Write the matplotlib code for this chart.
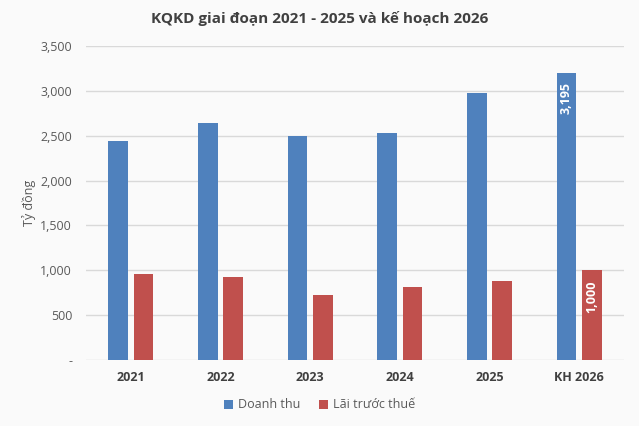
import matplotlib
matplotlib.use("Agg")
import matplotlib.pyplot as plt
import numpy as np

categories = ["2021", "2022", "2023", "2024", "2025", "KH 2026"]
doanh_thu = [2445, 2639, 2497, 2531, 2980, 3195]
lai_truoc_thue = [955, 922, 721, 817, 884, 1000]
yticks = [0, 500, 1000, 1500, 2000, 2500, 3000, 3500]
ytick_labels = ["-", "500", "1,000", "1,500", "2,000", "2,500", "3,000", "3,500"]
labelled = {5: ("3,195", "1,000")}

plt.rcParams['font.family'] = ['Open Sans', 'DejaVu Sans']

bg = "#fafafa"
fig = plt.figure(figsize=(6.39, 4.26), dpi=100, facecolor=bg)
ax = fig.add_axes([86/639, 1-360/426, 538/639, 314/426], facecolor=bg)

x = np.arange(len(categories))
w = 0.218
off = 0.142
blue = "#4f81bd"
red = "#c0504d"
b1 = ax.bar(x - off, doanh_thu, w, color=blue, label="Doanh thu", zorder=3)
b2 = ax.bar(x + off, lai_truoc_thue, w, color=red, label="Lãi trước thuế", zorder=3)

for i, (l1, l2) in labelled.items():
    ax.annotate(l1, (x[i] - off, doanh_thu[i]), xytext=(0, -6), textcoords="offset points",
                rotation=90, ha="center", va="top", color="white", fontweight="bold", fontsize=9)
    ax.annotate(l2, (x[i] + off, lai_truoc_thue[i]), xytext=(0, -7), textcoords="offset points",
                rotation=90, ha="center", va="top", color="white", fontweight="bold", fontsize=9)

ax.set_xlim(-0.5, len(categories) - 0.5)
ax.set_ylim(0, 3500)
ax.set_yticks(yticks)
ax.set_yticklabels(ytick_labels)
ax.set_xticks(x)
ax.set_xticklabels(categories, fontweight="bold")
ax.grid(axis="y", color="#d9d9d9", linewidth=1, zorder=0)
for s in ax.spines.values():
    s.set_visible(False)
ax.tick_params(axis="both", length=0, colors="#595959", labelsize=9)
ax.tick_params(axis="x", colors="#404040", pad=8)
ax.tick_params(axis="y", pad=10)
ax.set_ylabel("Tỷ đồng", color="#595959", fontsize=9, labelpad=3)

fig.suptitle("KQKD giai đoạn 2021 - 2025 và kế hoạch 2026", x=0.5, y=0.975, fontsize=11,
             fontweight="bold", color="#404040")

fig.legend(handles=[b1, b2], loc="center", bbox_to_anchor=(0.5, 1-405/426), ncol=2,
           frameon=False, fontsize=9, handlelength=0.7, handleheight=0.7, columnspacing=1.5,
           handletextpad=0.4, labelcolor="#595959")

fig.savefig("out.png", dpi=100, facecolor=bg)
